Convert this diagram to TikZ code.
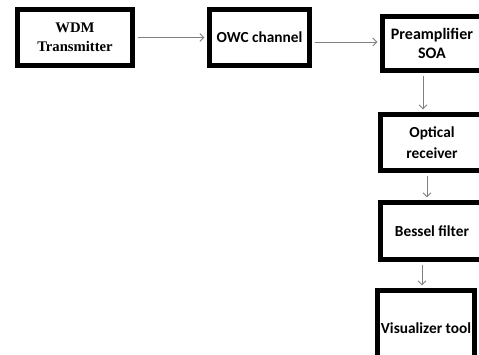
\documentclass[tikz,border=0pt]{standalone}
\usepackage{fontspec}
\setmainfont{Liberation Serif}
\newfontfamily\carlito{Carlito}
\usetikzlibrary{arrows.meta}
\begin{document}
\begin{tikzpicture}[x=0.75pt,y=-0.75pt,
  blk/.style={draw=black,line width=3.75pt,fill=white,inner sep=0pt,align=center,
    font=\carlito\bfseries\fontsize{11.5}{14.5}\selectfont},
  arr/.style={draw=black!50,line width=0.7pt,-{Straight Barb[length=3pt,width=6pt]},
    shorten >=1.9pt,shorten <=1.9pt}]
\useasboundingbox (0,0) rectangle (479,354);
\clip (0,0) rectangle (479,354);
\fill[white] (0,0) rectangle (479,354);
\node[blk,minimum width=86.25pt,minimum height=42pt,
  font=\bfseries\fontsize{11}{14.25}\selectfont] (tx) at (75,37.5) {WDM\\Transmitter};
\node[blk,minimum width=75pt,minimum height=42pt] (owc) at (259.5,37.5) {OWC channel};
\node[blk,minimum width=74.25pt,minimum height=40.5pt,
  font=\carlito\bfseries\fontsize{12}{14.25}\selectfont] (soa) at (432,43.5) {Preamplifier\\SOA};
\node[blk,minimum width=77.25pt,minimum height=42pt,
  font=\carlito\bfseries\fontsize{11.5}{15.75}\selectfont] (rx) at (432,142.5) {Optical\\receiver};
\node[blk,minimum width=77.25pt,minimum height=42.75pt] (bf) at (432,231) {Bessel filter};
\node[blk,minimum width=72.75pt,minimum height=56.25pt] (vis) at (426,328) {Visualizer tool};
\coordinate (c3) at (423,0);
\coordinate (c4) at (427,0);
\coordinate (c5) at (422,0);
\draw[arr] (tx.east) -- (owc.west);
\draw[arr] (owc.east |- 0,42) -- (soa.west |- 0,42);
\draw[arr] (soa.south -| c3) -- (rx.north -| c3);
\draw[arr] (rx.south -| c4) -- (bf.north -| c4);
\draw[arr] (bf.south -| c5) -- (vis.north -| c5);
\end{tikzpicture}
\end{document}
